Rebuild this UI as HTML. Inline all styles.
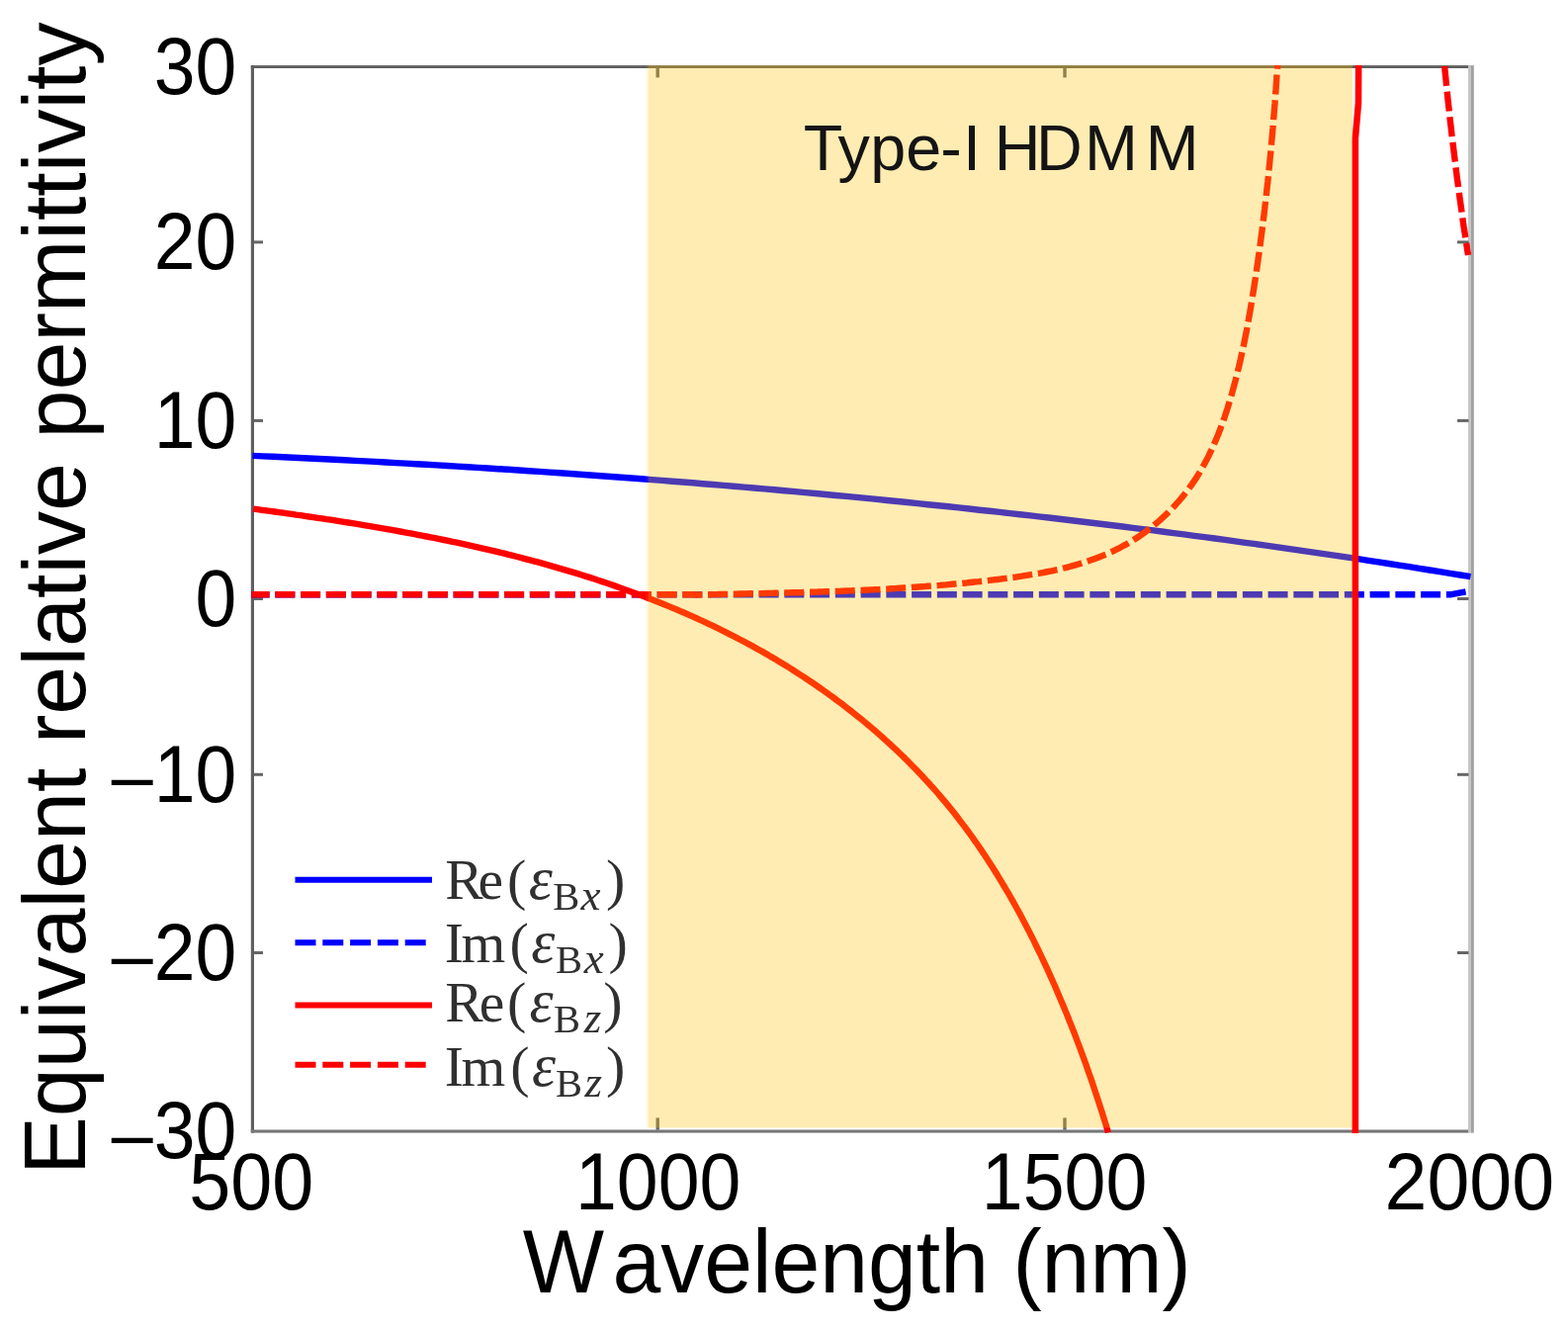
<!DOCTYPE html><html><head><meta charset="utf-8"><title>Equivalent relative permittivity</title>
<style>html,body{margin:0;padding:0;background:#fff;overflow:hidden;}svg{display:block;}text{font-family:"Liberation Sans",Arial,sans-serif;font-kerning:none;}.lg{font-family:"Liberation Serif","DejaVu Serif",serif;fill:#303030;}</style></head><body>
<svg width="1586" height="1346" viewBox="0 0 1586 1346">
<rect width="1586" height="1346" fill="#fff"/>
<defs><clipPath id="pc"><rect x="254" y="66" width="1236" height="1080"/></clipPath></defs>
<g fill="#606060">
<rect x="253.8" y="66" width="3.2" height="1079.6"/>
<rect x="253.8" y="66.1" width="1234" height="2.9"/>
</g>
<rect x="253.8" y="1142.5" width="1232" height="3.1" fill="#777"/>
<rect x="1485" y="66.1" width="2.9" height="1079.5" fill="#c6c6c6"/>
<rect x="1487.9" y="66.1" width="2.9" height="1079.5" fill="#a0a0a0"/>
<g fill="#666">
<rect x="257" y="243.4" width="9" height="3"/>
<rect x="1474" y="243.4" width="11.5" height="3"/>
<rect x="257" y="423.9" width="9" height="3"/>
<rect x="1474" y="423.9" width="11.5" height="3"/>
<rect x="257" y="604" width="9" height="3"/>
<rect x="1474" y="604" width="11.5" height="3"/>
<rect x="257" y="781.8" width="9" height="3"/>
<rect x="1474" y="781.8" width="11.5" height="3"/>
<rect x="257" y="962" width="9" height="3"/>
<rect x="1474" y="962" width="11.5" height="3"/>
<rect x="663.5" y="1130.4" width="3.4" height="12.2"/>
<rect x="663.5" y="68.9" width="3.4" height="9.5"/>
<rect x="1075.3" y="1130.4" width="3.4" height="12.2"/>
<rect x="1075.3" y="68.9" width="3.4" height="9.5"/>
</g>
<g clip-path="url(#pc)" fill="none" stroke-width="6.4" stroke-linejoin="round">
<path d="M255.4 460.9 L265.8 461.4 L276.1 461.8 L286.5 462.3 L296.8 462.8 L307.2 463.3 L317.5 463.8 L327.9 464.3 L338.2 464.8 L348.6 465.3 L358.9 465.9 L369.3 466.4 L379.6 466.9 L390 467.5 L400.4 468.1 L410.7 468.6 L421.1 469.2 L431.4 469.8 L441.8 470.4 L452.1 471 L462.5 471.6 L472.8 472.3 L483.2 472.9 L493.5 473.5 L503.9 474.2 L514.2 474.8 L524.6 475.5 L535 476.2 L545.3 476.9 L555.7 477.6 L566 478.3 L576.4 479 L586.7 479.7 L597.1 480.5 L607.4 481.2 L617.8 482 L628.1 482.7 L638.5 483.5 L648.8 484.3 L659.2 485.1 L669.6 485.9 L679.9 486.7 L690.3 487.5 L700.6 488.3 L711 489.2 L721.3 490 L731.7 490.9 L742 491.7 L752.4 492.6 L762.7 493.5 L773.1 494.4 L783.4 495.3 L793.8 496.2 L804.2 497.1 L814.5 498.1 L824.9 499 L835.2 500 L845.6 501 L855.9 501.9 L866.3 502.9 L876.6 503.9 L887 504.9 L897.3 506 L907.7 507 L918 508 L928.4 509.1 L938.7 510.2 L949.1 511.2 L959.5 512.3 L969.8 513.4 L980.2 514.5 L990.5 515.7 L1000.9 516.8 L1011.2 517.9 L1021.6 519.1 L1031.9 520.2 L1042.3 521.4 L1052.6 522.6 L1063 523.8 L1073.3 525 L1083.7 526.2 L1094.1 527.5 L1104.4 528.7 L1114.8 530 L1125.1 531.2 L1135.5 532.5 L1145.8 533.8 L1156.2 535.1 L1166.5 536.4 L1176.9 537.7 L1187.2 539.1 L1197.6 540.4 L1207.9 541.8 L1218.3 543.2 L1228.7 544.5 L1239 545.9 L1249.4 547.3 L1259.7 548.8 L1270.1 550.2 L1280.4 551.7 L1290.8 553.1 L1301.1 554.6 L1311.5 556.1 L1321.8 557.6 L1332.2 559.1 L1342.5 560.6 L1352.9 562.1 L1363.3 563.7 L1373.6 565.2 L1384 566.8 L1394.3 568.4 L1404.7 570 L1415 571.6 L1425.4 573.2 L1435.7 574.8 L1446.1 576.5 L1456.4 578.2 L1466.8 579.8 L1477.1 581.5 L1487.5 583.2" stroke="#0000ff"/>
<path d="M254.4 601.2 L1468 601.2 L1487.5 597.5" stroke="#0000ff" stroke-dasharray="20 5.75" stroke-dashoffset="1.8"/>
<path d="M256.2 514.6 L260.5 515.2 L264.9 515.8 L269.2 516.3 L273.5 516.9 L277.9 517.5 L282.2 518.1 L286.6 518.7 L290.9 519.3 L295.3 519.9 L299.6 520.6 L304 521.2 L308.4 521.8 L312.7 522.5 L317.1 523.1 L321.5 523.8 L325.9 524.4 L330.2 525.1 L334.6 525.7 L339 526.4 L343.4 527.1 L347.8 527.8 L352.2 528.5 L356.6 529.2 L361 529.9 L365.4 530.6 L369.7 531.4 L374.1 532.1 L378.5 532.8 L382.9 533.6 L387.3 534.3 L391.7 535.1 L396.1 535.9 L400.5 536.7 L404.9 537.5 L409.3 538.3 L413.7 539.1 L418.1 539.9 L422.5 540.8 L426.9 541.6 L431.3 542.5 L435.7 543.3 L440.1 544.2 L444.5 545.1 L448.9 546 L453.3 546.9 L457.6 547.8 L462 548.7 L466.4 549.7 L470.8 550.6 L475.2 551.6 L479.5 552.6 L483.9 553.6 L488.3 554.6 L492.7 555.6 L497 556.6 L501.4 557.6 L505.7 558.7 L510.1 559.7 L514.4 560.8 L518.8 561.9 L523.1 563 L527.5 564.1 L531.8 565.3 L536.1 566.4 L540.5 567.6 L544.8 568.7 L549.1 569.9 L553.4 571.1 L557.7 572.3 L562 573.6 L566.3 574.8 L570.6 576.1 L574.9 577.3 L579.2 578.6 L583.5 579.9 L587.8 581.3 L592 582.6 L596.3 583.9 L600.5 585.3 L604.8 586.7 L609 588.1 L613.3 589.5 L617.5 591 L621.7 592.4 L625.9 593.9 L630.1 595.4 L634.3 596.9 L638.5 598.4 L642.7 599.9 L646.9 601.5 L651.1 603.1 L655.2 604.7 L659.4 606.3 L663.5 607.9 L667.7 609.5 L671.8 611.2 L675.9 612.9 L680 614.6 L684.1 616.3 L688.2 618.1 L692.3 619.8 L696.4 621.6 L700.4 623.4 L704.5 625.2 L708.5 627.1 L712.6 628.9 L716.6 630.8 L720.6 632.7 L724.6 634.7 L728.6 636.6 L732.6 638.6 L736.6 640.6 L740.5 642.6 L744.5 644.6 L748.4 646.7 L752.3 648.7 L756.3 650.8 L760.2 652.9 L764.1 655.1 L767.9 657.2 L771.8 659.4 L775.7 661.6 L779.5 663.9 L783.4 666.1 L787.2 668.4 L791 670.7 L794.8 673 L798.6 675.4 L802.3 677.8 L806.1 680.2 L809.8 682.6 L813.6 685 L817.3 687.5 L821 690 L824.7 692.5 L828.3 695 L832 697.6 L835.6 700.2 L839.3 702.8 L842.9 705.4 L846.4 708.1 L850 710.7 L853.6 713.4 L857.1 716.2 L860.6 718.9 L864.1 721.7 L867.6 724.5 L871.1 727.3 L874.5 730.1 L878 733 L881.4 735.9 L884.8 738.8 L888.1 741.7 L891.5 744.6 L894.8 747.6 L898.1 750.6 L901.4 753.6 L904.6 756.7 L907.9 759.7 L911.1 762.8 L914.3 765.9 L917.5 769 L920.6 772.2 L923.8 775.4 L926.9 778.5 L929.9 781.8 L933 785 L936 788.3 L939 791.5 L942 794.8 L945 798.2 L947.9 801.5 L950.8 804.9 L953.7 808.3 L956.6 811.7 L959.4 815.1 L962.2 818.6 L965 822 L967.7 825.5 L970.4 829.1 L973.1 832.6 L975.8 836.1 L978.4 839.7 L981.1 843.3 L983.7 846.9 L986.2 850.6 L988.8 854.2 L991.3 857.9 L993.8 861.6 L996.3 865.3 L998.7 869 L1001.1 872.7 L1003.6 876.5 L1005.9 880.2 L1008.3 884 L1010.6 887.8 L1012.9 891.6 L1015.2 895.5 L1017.5 899.3 L1019.8 903.2 L1022 907 L1024.2 910.9 L1026.4 914.8 L1028.6 918.7 L1030.7 922.6 L1032.8 926.6 L1034.9 930.5 L1037 934.5 L1039.1 938.5 L1041.1 942.4 L1043.2 946.4 L1045.2 950.4 L1047.1 954.4 L1049.1 958.5 L1051.1 962.5 L1053 966.5 L1054.9 970.6 L1056.8 974.6 L1058.7 978.7 L1060.6 982.8 L1062.4 986.9 L1064.2 990.9 L1066.1 995 L1067.9 999.1 L1069.6 1003.2 L1071.4 1007.4 L1073.1 1011.5 L1074.9 1015.6 L1076.6 1019.7 L1078.3 1023.9 L1080 1028 L1081.6 1032.2 L1083.3 1036.3 L1084.9 1040.5 L1086.6 1044.6 L1088.2 1048.8 L1089.7 1053 L1091.3 1057.2 L1092.9 1061.3 L1094.4 1065.5 L1095.9 1069.7 L1097.5 1073.9 L1099 1078.1 L1100.4 1082.3 L1101.9 1086.5 L1103.4 1090.7 L1104.8 1094.8 L1106.2 1099 L1107.6 1103.2 L1109 1107.5 L1110.4 1111.7 L1111.8 1115.9 L1113.1 1120.1 L1114.5 1124.3 L1115.8 1128.5 L1117.1 1132.7 L1118.4 1136.9 L1119.7 1141.1 L1120.9 1145.3" stroke="#ff0000"/>
<path d="M1370.9 1150 L1370.9 140 L1374 104 L1374.2 60" stroke="#ff0000" stroke-width="6.6"/>
<path d="M254.4 601.2 L700 601.2 L702.9 601.5 L706 601.5 L709.1 601.4 L712.2 601.3 L715.3 601.3 L718.4 601.2 L721.5 601.1 L724.6 601.1 L727.7 601 L730.8 600.9 L733.9 600.9 L737 600.8 L740.1 600.7 L743.1 600.7 L746.2 600.6 L749.3 600.5 L752.4 600.5 L755.4 600.4 L758.5 600.3 L761.6 600.3 L764.6 600.2 L767.7 600.1 L770.8 600.1 L773.8 600 L776.9 599.9 L780 599.9 L783 599.8 L786.1 599.7 L789.1 599.6 L792.2 599.6 L795.2 599.5 L798.3 599.4 L801.4 599.3 L804.4 599.2 L807.5 599.2 L810.5 599.1 L813.5 599 L816.6 598.9 L819.6 598.8 L822.7 598.7 L825.7 598.6 L828.8 598.5 L831.8 598.4 L834.9 598.3 L837.9 598.2 L840.9 598.1 L844 598 L847 597.9 L850.1 597.8 L853.1 597.6 L856.1 597.5 L859.2 597.4 L862.2 597.3 L865.3 597.1 L868.3 597 L871.3 596.9 L874.4 596.7 L877.4 596.6 L880.4 596.4 L883.5 596.3 L886.5 596.1 L889.6 596 L892.6 595.8 L895.6 595.6 L898.7 595.5 L901.7 595.3 L904.8 595.1 L907.8 594.9 L910.8 594.7 L913.9 594.5 L916.9 594.4 L920 594.2 L923 593.9 L926.1 593.7 L929.1 593.5 L932.1 593.3 L935.2 593.1 L938.2 592.8 L941.3 592.6 L944.3 592.4 L947.4 592.1 L950.4 591.9 L953.5 591.6 L956.6 591.4 L959.6 591.1 L962.7 590.8 L965.7 590.5 L968.8 590.2 L971.9 590 L974.9 589.7 L978 589.4 L981 589 L984.1 588.7 L987.2 588.4 L990.3 588.1 L993.3 587.7 L996.4 587.4 L999.5 587.1 L1002.6 586.7 L1005.6 586.3 L1008.7 586 L1011.8 585.6 L1014.9 585.2 L1018 584.8 L1021.1 584.4 L1024.2 584 L1027.2 583.6 L1030.3 583.1 L1033.4 582.7 L1036.5 582.2 L1039.6 581.7 L1042.6 581.2 L1045.7 580.7 L1048.8 580.2 L1051.8 579.7 L1054.9 579.1 L1057.9 578.5 L1060.9 577.9 L1064 577.3 L1067 576.6 L1070 576 L1073 575.3 L1076 574.5 L1079 573.8 L1082 573 L1084.9 572.2 L1087.9 571.4 L1090.8 570.5 L1093.7 569.7 L1096.6 568.7 L1099.5 567.8 L1102.4 566.8 L1105.3 565.8 L1108.1 564.8 L1111 563.7 L1113.8 562.6 L1116.6 561.4 L1119.4 560.3 L1122.1 559 L1124.9 557.8 L1127.6 556.5 L1130.3 555.1 L1133 553.8 L1135.7 552.3 L1138.3 550.9 L1140.9 549.4 L1143.5 547.8 L1146.1 546.3 L1148.6 544.7 L1151.2 543 L1153.7 541.3 L1156.1 539.6 L1158.6 537.8 L1161 536 L1163.4 534.2 L1165.8 532.3 L1168.1 530.4 L1170.5 528.5 L1172.7 526.5 L1175 524.5 L1177.2 522.4 L1179.4 520.4 L1181.6 518.3 L1183.7 516.1 L1185.8 514 L1187.9 511.8 L1189.9 509.5 L1191.9 507.3 L1193.9 505 L1195.9 502.6 L1197.8 500.3 L1199.6 497.9 L1201.5 495.5 L1203.2 493.1 L1205 490.6 L1206.7 488.1 L1208.4 485.6 L1210.1 483.1 L1211.7 480.5 L1213.3 477.9 L1214.8 475.3 L1216.3 472.6 L1217.8 470 L1219.2 467.3 L1220.7 464.6 L1222.1 461.9 L1223.4 459.1 L1224.7 456.4 L1226 453.6 L1227.3 450.8 L1228.5 448 L1229.8 445.2 L1230.9 442.3 L1232.1 439.5 L1233.2 436.6 L1234.4 433.7 L1235.4 430.8 L1236.5 427.9 L1237.5 425 L1238.6 422.1 L1239.6 419.1 L1240.5 416.2 L1241.5 413.2 L1242.4 410.3 L1243.3 407.3 L1244.2 404.3 L1245.1 401.3 L1246 398.3 L1246.8 395.3 L1247.6 392.4 L1248.4 389.4 L1249.2 386.4 L1250 383.4 L1250.8 380.4 L1251.5 377.4 L1252.2 374.4 L1253 371.3 L1253.7 368.3 L1254.4 365.3 L1255 362.3 L1255.7 359.3 L1256.4 356.3 L1257 353.3 L1257.7 350.3 L1258.3 347.3 L1258.9 344.3 L1259.5 341.3 L1260.1 338.3 L1260.7 335.3 L1261.3 332.3 L1261.8 329.3 L1262.4 326.3 L1262.9 323.2 L1263.5 320.2 L1264 317.2 L1264.5 314.2 L1265 311.2 L1265.5 308.2 L1266 305.2 L1266.5 302.2 L1267 299.1 L1267.5 296.1 L1268 293.1 L1268.5 290.1 L1268.9 287.1 L1269.4 284.1 L1269.9 281 L1270.3 278 L1270.8 275 L1271.2 272 L1271.6 269 L1272.1 265.9 L1272.5 262.9 L1272.9 259.9 L1273.4 256.9 L1273.8 253.8 L1274.2 250.8 L1274.6 247.8 L1275 244.8 L1275.4 241.7 L1275.8 238.7 L1276.2 235.7 L1276.6 232.7 L1277 229.6 L1277.4 226.6 L1277.7 223.6 L1278.1 220.5 L1278.5 217.5 L1278.8 214.5 L1279.2 211.4 L1279.5 208.4 L1279.9 205.4 L1280.2 202.3 L1280.6 199.3 L1280.9 196.3 L1281.3 193.2 L1281.6 190.2 L1281.9 187.2 L1282.3 184.1 L1282.6 181.1 L1282.9 178 L1283.2 175 L1283.5 172 L1283.8 168.9 L1284.1 165.9 L1284.4 162.8 L1284.7 159.8 L1285 156.7 L1285.3 153.7 L1285.6 150.6 L1285.9 147.6 L1286.1 144.5 L1286.4 141.5 L1286.7 138.4 L1287 135.4 L1287.2 132.3 L1287.5 129.3 L1287.7 126.2 L1288 123.2 L1288.2 120.1 L1288.5 117.1 L1288.7 114 L1289 110.9 L1289.2 107.9 L1289.5 104.8 L1289.7 101.8 L1289.9 98.7 L1290.1 95.6 L1290.4 92.6 L1290.6 89.5 L1290.8 86.4 L1291 83.4 L1291.2 80.3 L1291.4 77.2 L1291.6 74.2 L1291.9 71.1 L1292.1 68 L1292.3 65 L1292.4 61.9" stroke="#ff0000" stroke-dasharray="20 5.75" stroke-dashoffset="1.8"/>
<path d="M1461.1 67 L1461.6 71.9 L1462.1 76.8 L1462.6 81.7 L1463.1 86.7 L1463.6 91.6 L1464.1 96.5 L1464.6 101.4 L1465.1 106.3 L1465.7 111.2 L1466.2 116.1 L1466.7 121 L1467.3 125.9 L1467.9 130.8 L1468.4 135.7 L1469 140.6 L1469.6 145.5 L1470.2 150.4 L1470.8 155.3 L1471.4 160.3 L1472 165.2 L1472.6 170.1 L1473.2 174.9 L1473.8 179.8 L1474.5 184.7 L1475.1 189.6 L1475.8 194.5 L1476.4 199.4 L1477.1 204.3 L1477.8 209.2 L1478.5 214.1 L1479.1 219 L1479.8 223.9 L1480.5 228.8 L1481.3 233.6 L1482 238.5 L1482.7 243.4 L1483.5 248.3 L1484.2 253.2 L1485 258" stroke="#ff0000" stroke-dasharray="20 5.75"/>
</g>
<rect x="655.7" y="66" width="712.3" height="1074.5" fill="#ffc000" fill-opacity="0.3"/>
<rect x="653.1" y="66" width="2.6" height="1074.5" fill="#ffc000" fill-opacity="0.09"/>
<g fill="#000">
<text transform="translate(155.65 94.90) scale(0.9300 1)" font-size="80.8">30</text>
<text transform="translate(155.65 272.30) scale(0.9300 1)" font-size="80.8">20</text>
<text transform="translate(155.65 452.80) scale(0.9300 1)" font-size="80.8">10</text>
<text transform="translate(197.44 632.90) scale(0.9300 1)" font-size="80.8">0</text>
<text transform="translate(155.65 810.70) scale(0.9300 1)" font-size="80.8">10</text>
<text transform="translate(108.85 814.99) scale(1.0674 0.8854)" font-size="80.8">−</text>
<text transform="translate(155.65 990.90) scale(0.9300 1)" font-size="80.8">20</text>
<text transform="translate(108.85 996.19) scale(1.0674 0.8854)" font-size="80.8">−</text>
<text transform="translate(155.65 1171.40) scale(0.9300 1)" font-size="80.8">30</text>
<text transform="translate(108.85 1176.79) scale(1.0674 0.8854)" font-size="80.8">−</text>
<text transform="translate(191.17 1222.80) scale(0.9352 1)" font-size="80.8">500</text>
<text transform="translate(581.97 1222.80) scale(0.9317 1)" font-size="80.8">1000</text>
<text transform="translate(992.76 1222.80) scale(0.9323 1)" font-size="80.8">1500</text>
<text transform="translate(1400.52 1222.80) scale(0.9546 1)" font-size="80.8">2000</text>
<text transform="translate(528.72 1307.00) scale(0.9623 1)" font-size="90.7">W</text>
<text transform="translate(619.57 1307.00) scale(0.9673 1)" font-size="90.7">avelength (nm)</text>
<text transform="translate(86.2 1187.93) rotate(-90) scale(0.9858 1)" font-size="89.4">Equivalent relative permittivity</text>
</g>
<text y="172" font-size="64.7" fill="#141414"><tspan x="812.8 847.5 880.3 916.3 951.2 974.0">Type-I</tspan> <tspan x="1005.8 1048.0 1097.1 1158.8">HDMM</tspan></text>
<path d="M298.5 889.8 H437" stroke="#0000ff" stroke-width="6" fill="none"/>
<path d="M298.5 953.2 H434" stroke="#0000ff" stroke-width="6" stroke-dasharray="21 6.8" fill="none"/>
<path d="M298.5 1016.5 H437" stroke="#ff0000" stroke-width="6" fill="none"/>
<path d="M298.5 1076.8 H434" stroke="#ff0000" stroke-width="6" stroke-dasharray="21 6.8" fill="none"/>
<text class="lg"><tspan x="450.24" y="908.70" font-size="57.5">R</tspan><tspan x="483.45" y="908.70" font-size="57.5">e</tspan><tspan x="512.95" y="908.70" font-size="58">(</tspan><tspan x="534.69" y="908.70" font-size="61" font-style="italic">ε</tspan><tspan x="559.33" y="919.70" font-size="40.5">B</tspan><tspan x="587.55" y="919.70" font-size="45" font-style="italic">x</tspan><tspan x="612.93" y="908.70" font-size="58">)</tspan></text>
<text class="lg"><tspan x="449.82" y="973.00" font-size="57.5">I</tspan><tspan x="466.59" y="973.00" font-size="57.5">m</tspan><tspan x="515.55" y="973.00" font-size="58">(</tspan><tspan x="537.29" y="973.00" font-size="61" font-style="italic">ε</tspan><tspan x="561.93" y="984.00" font-size="40.5">B</tspan><tspan x="590.85" y="984.00" font-size="45" font-style="italic">x</tspan><tspan x="615.53" y="973.00" font-size="58">)</tspan></text>
<text class="lg"><tspan x="450.24" y="1033.20" font-size="57.5">R</tspan><tspan x="484.75" y="1033.20" font-size="57.5">e</tspan><tspan x="512.95" y="1033.20" font-size="58">(</tspan><tspan x="535.39" y="1033.20" font-size="61" font-style="italic">ε</tspan><tspan x="560.03" y="1044.20" font-size="40.5">B</tspan><tspan x="590.81" y="1044.20" font-size="45" font-style="italic">z</tspan><tspan x="610.23" y="1033.20" font-size="58">)</tspan></text>
<text class="lg"><tspan x="449.82" y="1097.80" font-size="57.5">I</tspan><tspan x="466.59" y="1097.80" font-size="57.5">m</tspan><tspan x="516.25" y="1097.80" font-size="58">(</tspan><tspan x="537.99" y="1097.80" font-size="61" font-style="italic">ε</tspan><tspan x="561.93" y="1108.80" font-size="40.5">B</tspan><tspan x="591.51" y="1108.80" font-size="45" font-style="italic">z</tspan><tspan x="612.93" y="1097.80" font-size="58">)</tspan></text>
</svg></body></html>
